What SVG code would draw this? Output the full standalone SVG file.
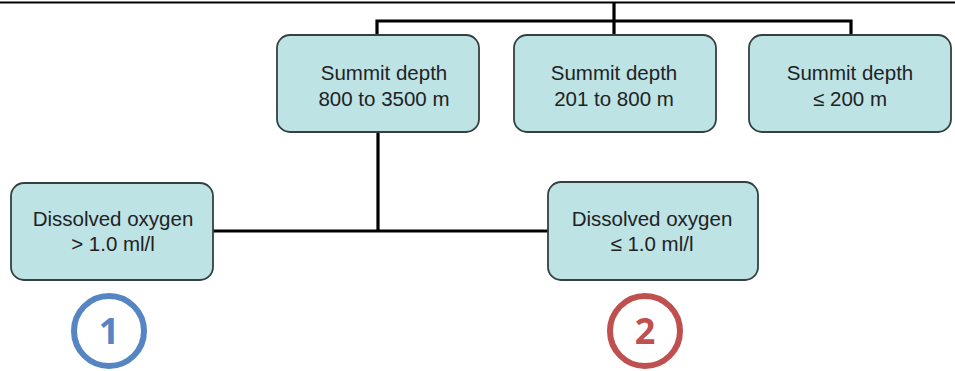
<svg xmlns="http://www.w3.org/2000/svg" width="955" height="371" viewBox="0 0 955 371">
<style>
.box{fill:#bde3e5;stroke:#354040;stroke-width:1.8}
.t{font-family:"Liberation Sans",Arial,sans-serif;font-size:20.5px;fill:#222;text-anchor:middle}
.c{fill:none;stroke:#000;stroke-width:3.2}
.num{font-family:"Open Sans","Liberation Sans",sans-serif;font-weight:bold;font-size:36px;text-anchor:middle}
</style>
<rect width="955" height="371" fill="#fff"/>
<g id="connectors">
<line x1="0" y1="2.5" x2="955" y2="2.5" stroke="#000" stroke-width="2"/>
<path class="c" d="M614 2.5V21M377 36V21H851V36M614 21V36"/>
<path class="c" d="M378 132V231M213 231H548"/>
</g>
<g id="n1"><rect class="box" x="277" y="35" width="202" height="97" rx="13"/><text class="t" x="384" y="80">Summit depth</text><text class="t" x="384" y="106">800 to 3500 m</text></g>
<g id="n2"><rect class="box" x="514" y="35" width="202" height="97" rx="13"/><text class="t" x="614" y="80">Summit depth</text><text class="t" x="614" y="106">201 to 800 m</text></g>
<g id="n3"><rect class="box" x="749" y="35" width="202" height="97" rx="13"/><text class="t" x="850" y="80">Summit depth</text><text class="t" x="850" y="106">≤ 200 m</text></g>
<g id="n4"><rect class="box" x="11" y="183" width="202" height="97" rx="13"/><text class="t" x="113" y="226">Dissolved oxygen</text><text class="t" x="113" y="251">&gt; 1.0 ml/l</text></g>
<g id="n5"><rect class="box" x="548" y="182" width="210" height="98" rx="13"/><text class="t" x="652" y="226">Dissolved oxygen</text><text class="t" x="652" y="251">≤ 1.0 ml/l</text></g>
<g id="b1"><circle cx="109" cy="331" r="35" fill="none" stroke="#5585c3" stroke-width="6"/><text class="num" x="109" y="344" fill="#5585c3">1</text></g>
<g id="b2"><circle cx="645" cy="331" r="35" fill="none" stroke="#c0504f" stroke-width="6"/><text class="num" x="645" y="344" fill="#c0504f">2</text></g>
</svg>
